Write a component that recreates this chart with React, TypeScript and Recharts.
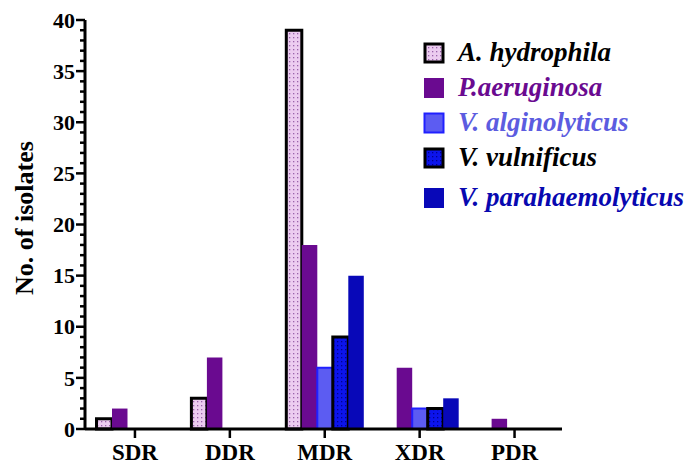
import React from 'react';
import { BarChart, Bar, XAxis, YAxis } from 'recharts';

const categories = ['SDR', 'DDR', 'MDR', 'XDR', 'PDR'];
const aHydrophila = [1, 3, 39, null, null];
const pAeruginosa = [2, 7, 18, 6, 1];
const vAlginolyticus = [null, null, 6, 2, null];
const vVulnificus = [null, null, 9, 2, null];
const vParahaemolyticus = [null, null, 15, 3, null];
const yMajorTicks = [0, 5, 10, 15, 20, 25, 30, 35, 40];
const yAllTicks = Array.from({ length: 41 }, (_, i) => i);

const data = categories.map((c, i) => ({
  cat: c,
  a: aHydrophila[i],
  p: pAeruginosa[i],
  va: vAlginolyticus[i],
  vv: vVulnificus[i],
  vp: vParahaemolyticus[i],
}));

const FONT = '"Liberation Serif", "Times New Roman", serif';
const AXIS_X = 85;
const PLOT_BOTTOM = 429;

const series = [
  { key: 'a', name: 'A. hydrophila', fill: 'url(#dotsPink)', stroke: '#000', sw: 3, text: '#000' },
  { key: 'p', name: 'P.aeruginosa', fill: '#6a0a90', stroke: 'none', sw: 0, text: '#6a0a90' },
  { key: 'va', name: 'V. alginolyticus', fill: '#5c5cf2', stroke: '#2020ff', sw: 2, text: '#5c5ce0' },
  { key: 'vv', name: 'V. vulnificus', fill: 'url(#dotsBlue)', stroke: '#000', sw: 3, text: '#000' },
  { key: 'vp', name: 'V. parahaemolyticus', fill: '#0808b8', stroke: 'none', sw: 0, text: '#0808b0' },
];

const YTick = (props: any) => {
  const { y, payload } = props;
  const v = payload.value;
  const major = yMajorTicks.includes(v);
  return (
    <g>
      <line x1={AXIS_X - (major ? 9 : 5)} x2={AXIS_X} y1={y} y2={y} stroke="#000" strokeWidth={2.5} />
      {major && (
        <text x={AXIS_X - 10} y={y} dy="0.35em" textAnchor="end" fontFamily={FONT} fontWeight="bold" fontSize={22} fill="#000">
          {v}
        </text>
      )}
    </g>
  );
};

const XTick = (props: any) => {
  const { x, payload } = props;
  return (
    <g>
      <line x1={x} x2={x} y1={PLOT_BOTTOM} y2={PLOT_BOTTOM + 9} stroke="#000" strokeWidth={2.5} />
      <text x={x} y={PLOT_BOTTOM + 31} textAnchor="middle" fontFamily={FONT} fontWeight="bold" fontSize={23} fill="#000">
        {payload.value}
      </text>
    </g>
  );
};

const LegendBox = () => (
  <div style={{ position: 'absolute', left: 423, top: 35, width: 265, fontFamily: FONT }}>
    {series.map((s, i) => (
      <div key={s.key} style={{ display: 'flex', alignItems: 'center', height: 35, marginTop: i === 4 ? 5 : 0 }}>
        <svg width={22} height={22} style={{ flex: 'none' }}>
          <rect
            x={s.sw ? s.sw / 2 + 0.5 : 1}
            y={s.sw ? s.sw / 2 + 0.5 : 1}
            width={s.sw ? 21 - s.sw : 20}
            height={s.sw ? 21 - s.sw : 20}
            fill={s.fill}
            stroke={s.stroke}
            strokeWidth={s.sw}
          />
        </svg>
        <span style={{ marginLeft: 13, fontSize: 27, fontWeight: 'bold', fontStyle: 'italic', color: s.text, whiteSpace: 'nowrap' }}>
          {s.name}
        </span>
      </div>
    ))}
  </div>
);

export default function App() {
  return (
    <div style={{ position: 'absolute', left: 0, top: 0, width: 688, height: 464, background: '#fff', overflow: 'hidden' }}>
      <BarChart width={688} height={464} data={data} margin={{ top: 20, right: 126, bottom: 0, left: 0 }} barGap={0}>
        <defs>
          <pattern id="dotsPink" width="4" height="4" patternUnits="userSpaceOnUse">
            <rect width="4" height="4" fill="#ecccf0" />
            <rect x="1" y="1" width="1.3" height="1.3" fill="#9a62aa" />
          </pattern>
          <pattern id="dotsBlue" width="4" height="4" patternUnits="userSpaceOnUse">
            <rect width="4" height="4" fill="#0c14ec" />
            <rect x="1" y="1" width="1.3" height="1.3" fill="#000090" />
          </pattern>
        </defs>
        <XAxis
          dataKey="cat"
          height={35}
          padding={{ left: 2.5, right: 0 }}
          axisLine={{ stroke: '#000', strokeWidth: 3 }}
          tickLine={false}
          tick={<XTick />}
          interval={0}
        />
        <YAxis
          width={85}
          domain={[0, 40]}
          ticks={yAllTicks}
          interval={0}
          axisLine={{ stroke: '#000', strokeWidth: 3 }}
          tickLine={false}
          tick={<YTick />}
          label={{
            value: 'No. of isolates',
            content: () => (
              <text
                x={24}
                y={218}
                transform="rotate(-90 24 218)"
                textAnchor="middle"
                dominantBaseline="central"
                fontFamily={FONT}
                fontWeight="bold"
                fontSize={26}
                fill="#000"
              >
                No. of isolates
              </text>
            ),
          }}
        />
        {series.map((s) => (
          <Bar
            key={s.key}
            dataKey={s.key}
            name={s.name}
            fill={s.fill}
            stroke={s.stroke}
            strokeWidth={s.sw}
            barSize={15.5}
            isAnimationActive={false}
          />
        ))}
      </BarChart>
      <LegendBox />
    </div>
  );
}
